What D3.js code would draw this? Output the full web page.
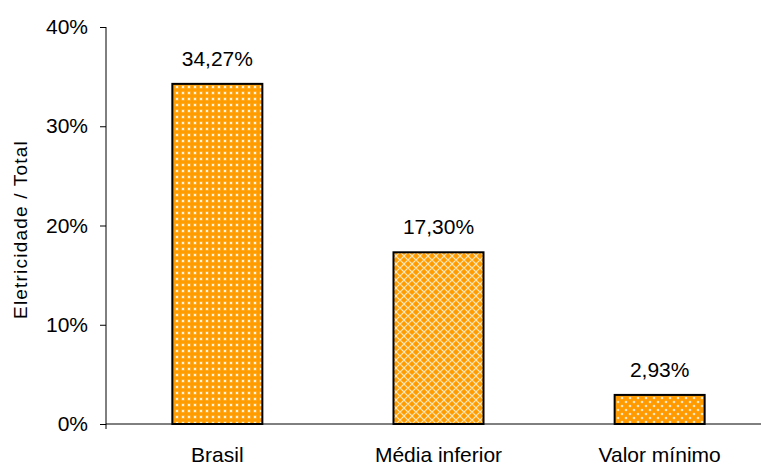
<!DOCTYPE html>
<html>
<head>
<meta charset="utf-8">
<script src="https://cdn.jsdelivr.net/npm/d3@7"></script>
<style>
  body { margin: 0; background: #fff; }
  text { font-family: "Liberation Sans", Arial, sans-serif; }
</style>
</head>
<body>
<div id="chart"></div>
<script>
const categories = ["Brasil", "Média inferior", "Valor mínimo"];
const values = [0.3427, 0.1730, 0.0293];
const valueLabels = ["34,27%", "17,30%", "2,93%"];
const yTicks = [0, 0.1, 0.2, 0.3, 0.4];

const width = 761;
const height = 466;
const mLeft = 106, mRight = 771, mTop = 27, mBottom = 424;
const font = "'Liberation Sans', Arial, sans-serif";

const svg = d3.select("#chart")
    .append("svg")
    .attr("width", width)
    .attr("height", height);

// patterns
const defs = svg.append("defs");

const p1 = defs.append("pattern")
    .attr("id", "pat0").attr("patternUnits", "userSpaceOnUse")
    .attr("width", 6).attr("height", 6);
p1.append("rect").attr("width", 6).attr("height", 6).attr("fill", "#ff9c00");
p1.append("rect").attr("x", 1.5).attr("y", 1.5).attr("width", 3).attr("height", 3).attr("fill", "#ffffff").attr("opacity", 0.35);
p1.append("rect").attr("x", 2).attr("y", 2).attr("width", 2).attr("height", 2).attr("fill", "#fff3d8");

const p2 = defs.append("pattern")
    .attr("id", "pat1").attr("patternUnits", "userSpaceOnUse")
    .attr("width", 8).attr("height", 8);
p2.append("rect").attr("width", 8).attr("height", 8).attr("fill", "#ff9c00");
p2.append("path").attr("d", "M0,4 L4,0 L8,4 L4,8 Z").attr("fill", "none")
    .attr("stroke", "#ffe8c0").attr("stroke-width", 1.1);
p2.append("rect").attr("x", 3).attr("y", 3).attr("width", 2).attr("height", 2).attr("fill", "#ff9c00");

const p3 = defs.append("pattern")
    .attr("id", "pat2").attr("patternUnits", "userSpaceOnUse")
    .attr("width", 8).attr("height", 8);
p3.append("rect").attr("width", 8).attr("height", 8).attr("fill", "#ff9a00");
p3.append("circle").attr("cx", 2).attr("cy", 2).attr("r", 1.3).attr("fill", "#ffe6c0");
p3.append("circle").attr("cx", 6).attr("cy", 6).attr("r", 1.3).attr("fill", "#ffe6c0");

const x = d3.scaleBand()
    .domain(categories)
    .range([mLeft, mRight])
    .paddingInner(0.593)
    .paddingOuter(0.3);

const y = d3.scaleLinear()
    .domain([0, 0.4])
    .range([mBottom, mTop]);

// bars
svg.selectAll(".bar")
    .data(values)
    .enter()
    .append("rect")
    .attr("class", "bar")
    .attr("x", (d, i) => x(categories[i]))
    .attr("y", d => y(d))
    .attr("width", x.bandwidth())
    .attr("height", d => y(0) - y(d))
    .attr("fill", (d, i) => `url(#pat${i})`)
    .attr("stroke", "#000")
    .attr("stroke-width", 2);

// value labels
svg.selectAll(".val")
    .data(values)
    .enter()
    .append("text")
    .attr("x", (d, i) => x(categories[i]) + x.bandwidth() / 2)
    .attr("y", d => y(d) - 18)
    .attr("text-anchor", "middle")
    .style("font-size", "21px")
    .text((d, i) => valueLabels[i]);

// y axis
const yAxis = svg.append("g")
    .attr("transform", `translate(${mLeft},0)`)
    .call(d3.axisLeft(y).tickValues(yTicks).tickFormat(d3.format(".0%")).tickSize(6).tickSizeOuter(0));
yAxis.select(".domain").attr("d", `M0,${mTop}V${mBottom + 5}`);
yAxis.selectAll("text").style("font-size", "21px").attr("x", -18)
    .style("font-family", font);

// x axis
const xAxis = svg.append("g")
    .attr("transform", `translate(0,${mBottom})`)
    .call(d3.axisBottom(x).tickSize(0).tickSizeOuter(0));
xAxis.select(".domain").attr("d", `M${mLeft},0H${width}`);
xAxis.selectAll("text").style("font-size", "21px").attr("y", 23)
    .style("font-family", font);

// axis title
svg.append("text")
    .attr("transform", "rotate(-90)")
    .attr("x", -(mTop + mBottom) / 2 - 4)
    .attr("y", 27)
    .attr("text-anchor", "middle")
    .style("font-size", "19px")
    .style("letter-spacing", "1.2px")
    .text("Eletricidade / Total");
</script>
</body>
</html>
